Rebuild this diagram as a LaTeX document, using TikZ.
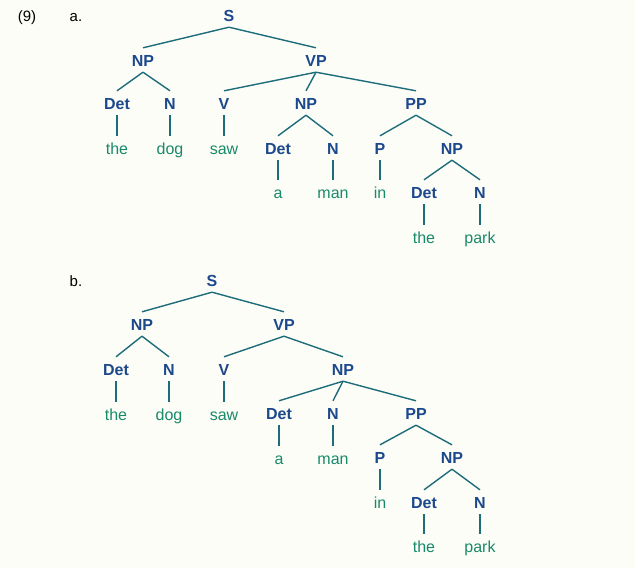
\documentclass[tikz,border=0pt]{standalone}
\usepackage{fontspec}
\setmainfont{Liberation Sans}
\definecolor{catblue}{HTML}{1C488C}
\definecolor{wordgreen}{HTML}{18896A}
\definecolor{branch}{HTML}{1C6C7A}
\definecolor{paper}{HTML}{FDFDF8}
\begin{document}
\begin{tikzpicture}[x=1pt, y=-1pt,
  every node/.append style={text height=12pt, text depth=0pt, inner xsep=0pt, inner ysep=6pt, font=\fontsize{16}{19}\selectfont},
  cat/.style={text=catblue, font=\fontsize{16}{19}\selectfont\bfseries},
  word/.style={text=wordgreen},
  edge/.style={draw=branch, line width=1.4pt}]
  \fill[paper] (0,0) rectangle (635,568);
  \useasboundingbox (0,0) rectangle (635,568);
  \node[font=\fontsize{15}{18}\selectfont] (num) at (27,15) {(9)};
  % tree a
  \node[font=\fontsize{15}{18}\selectfont] (alab) at (76,15) {a.};
  \node[cat] (aS) at (229,15) {S};
  \node[cat] (aNP) at (143,60) {NP};   \node[cat] (aVP) at (316,60) {VP};
  \node[cat] (aDetA) at (117,103) {Det}; \node[cat] (aNA) at (170,103) {N};
  \node[cat] (aV) at (224,103) {V};    \node[cat] (aNPb) at (306,103) {NP};
  \node[cat] (aPP) at (416,103) {PP};
  \node[word] (aThe) at (117,148) {the}; \node[word] (aDog) at (170,148) {dog};
  \node[word] (aSaw) at (224,148) {saw}; \node[cat] (aDetB) at (278,148) {Det};
  \node[cat] (aNB) at (333,148) {N};   \node[cat] (aP) at (380,148) {P};
  \node[cat] (aNPc) at (452,148) {NP};
  \node[word] (aA) at (278,192) {a};   \node[word] (aMan) at (333,192) {man};
  \node[word] (aIn) at (380,192) {in}; \node[cat] (aDetC) at (424,192) {Det};
  \node[cat] (aNC) at (480,192) {N};
  \node[word] (aThe2) at (424,237) {the}; \node[word] (aPark) at (480,237) {park};
  \foreach \p/\c in {aS/aNP, aS/aVP, aNP/aDetA, aNP/aNA, aVP/aV, aVP/aNPb, aVP/aPP,
    aDetA/aThe, aNA/aDog, aV/aSaw, aNPb/aDetB, aNPb/aNB, aPP/aP, aPP/aNPc,
    aDetB/aA, aNB/aMan, aP/aIn, aNPc/aDetC, aNPc/aNC, aDetC/aThe2, aNC/aPark}
    \draw[edge] (\p.south) -- (\c.north);
  % tree b
  \node[font=\fontsize{15}{18}\selectfont] (blab) at (76,280) {b.};
  \node[cat] (bS) at (212,280) {S};
  \node[cat] (bNP) at (142,324) {NP};  \node[cat] (bVP) at (284,324) {VP};
  \node[cat] (bDetA) at (116,369) {Det}; \node[cat] (bNA) at (169,369) {N};
  \node[cat] (bV) at (224,369) {V};    \node[cat] (bNPb) at (343,369) {NP};
  \node[word] (bThe) at (116,414) {the}; \node[word] (bDog) at (169,414) {dog};
  \node[word] (bSaw) at (224,414) {saw}; \node[cat] (bDetB) at (279,413) {Det};
  \node[cat] (bNB) at (333,413) {N};   \node[cat] (bPP) at (416,413) {PP};
  \node[word] (bA) at (279,458) {a};   \node[word] (bMan) at (333,458) {man};
  \node[cat] (bP) at (380,457) {P};    \node[cat] (bNPc) at (452,457) {NP};
  \node[word] (bIn) at (380,502) {in}; \node[cat] (bDetC) at (424,502) {Det};
  \node[cat] (bNC) at (480,502) {N};
  \node[word] (bThe2) at (424,546) {the}; \node[word] (bPark) at (480,546) {park};
  \foreach \p/\c in {bS/bNP, bS/bVP, bNP/bDetA, bNP/bNA, bVP/bV, bVP/bNPb,
    bDetA/bThe, bNA/bDog, bV/bSaw, bNPb/bDetB, bNPb/bNB, bNPb/bPP,
    bDetB/bA, bNB/bMan, bPP/bP, bPP/bNPc, bP/bIn, bNPc/bDetC, bNPc/bNC,
    bDetC/bThe2, bNC/bPark}
    \draw[edge] (\p.south) -- (\c.north);
\end{tikzpicture}
\end{document}
